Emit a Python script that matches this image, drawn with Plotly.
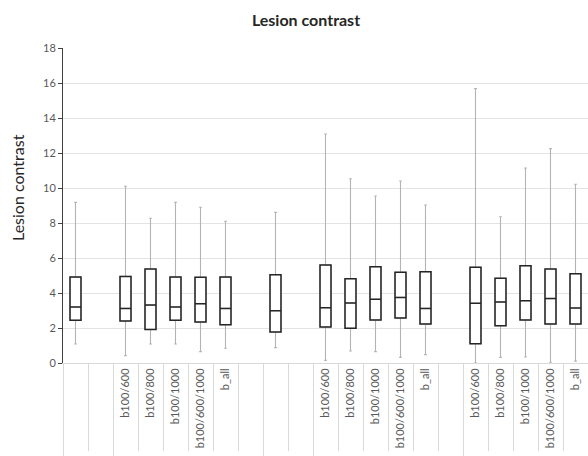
import plotly.graph_objects as go

# 21 category slots on the x axis (empty strings = unlabeled slots)
slot_labels = ["", "", "b100/600", "b100/800", "b100/1000", "b100/600/1000", "b_all",
               "", "", "", "b100/600", "b100/800", "b100/1000", "b100/600/1000", "b_all",
               "", "b100/600", "b100/800", "b100/1000", "b100/600/1000", "b_all"]

# slot index (1-based) of each box
box_slots = [1, 3, 4, 5, 6, 7, 9, 11, 12, 13, 14, 15, 17, 18, 19, 20, 21]

whisker_low = [1.09, 0.42, 1.09, 1.09, 0.65, 0.84, 0.88, 0.15, 0.69, 0.65, 0.32, 0.48, 0.0, 0.32, 0.34, 0.04, 0.11]
q1_vals     = [2.44, 2.40, 1.92, 2.44, 2.34, 2.19, 1.77, 2.06, 1.98, 2.46, 2.57, 2.23, 1.10, 2.13, 2.46, 2.23, 2.23]
median_vals = [3.20, 3.12, 3.31, 3.20, 3.39, 3.12, 2.99, 3.16, 3.43, 3.64, 3.75, 3.12, 3.41, 3.49, 3.56, 3.68, 3.14]
q3_vals     = [4.91, 4.95, 5.37, 4.91, 4.90, 4.91, 5.05, 5.60, 4.82, 5.50, 5.18, 5.22, 5.47, 4.84, 5.56, 5.37, 5.10]
whisker_high= [9.18, 10.10, 8.27, 9.18, 8.90, 8.10, 8.61, 13.09, 10.53, 9.54, 10.40, 9.03, 15.68, 8.36, 11.14, 12.25, 10.21]

# slot boundaries; group boundaries get longer divider lines
boundaries = [i + 0.5 for i in range(0, 22)]
group_boundaries = [0.5, 2.5, 8.5, 10.5, 16.5]

FONT = "Lato"
n = len(slot_labels)

fig = go.Figure()

# whiskers (gray)
fig.add_trace(go.Box(
    x=box_slots, q1=q1_vals, median=median_vals, q3=q3_vals,
    lowerfence=whisker_low, upperfence=whisker_high,
    width=0.44, whiskerwidth=0.25,
    line=dict(color="#b3b3b3", width=1.1), fillcolor="white",
    boxpoints=False, hoverinfo="skip", showlegend=False,
))
# boxes (black)
fig.add_trace(go.Box(
    x=box_slots, q1=q1_vals, median=median_vals, q3=q3_vals,
    lowerfence=q1_vals, upperfence=q3_vals,
    width=0.44, whiskerwidth=0,
    line=dict(color="#262626", width=1.5), fillcolor="rgba(255,255,255,0)",
    boxpoints=False, showlegend=False,
))
# helper traces so the divider axes are drawn
fig.add_trace(go.Scatter(x=[None], y=[None], xaxis="x2", showlegend=False, hoverinfo="skip"))
fig.add_trace(go.Scatter(x=[None], y=[None], xaxis="x3", showlegend=False, hoverinfo="skip"))

xr = [0.5, n + 0.5]
fig.update_layout(
    width=588, height=456,
    margin=dict(l=63, r=0, t=48, b=93),
    paper_bgcolor="white", plot_bgcolor="white",
    boxmode="overlay",
    font=dict(family=FONT, color="#595959"),
    title=dict(text="<b>Lesion contrast</b>", x=306 / 588, xref="container",
               y=1 - 20 / 456, yref="container", xanchor="center", yanchor="middle",
               font=dict(size=16, color="#262626", family=FONT)),
    xaxis=dict(range=xr, tickmode="array", tickvals=list(range(1, n + 1)),
               ticktext=slot_labels, tickangle=-90, ticks="", showgrid=False,
               showline=True, linecolor="#d9d9d9", linewidth=1, zeroline=False,
               automargin=False,
               tickfont=dict(size=11, color="#595959", family=FONT)),
    xaxis2=dict(range=xr, overlaying="x", anchor="y", side="bottom",
                tickmode="array", tickvals=boundaries, ticks="outside", ticklen=87,
                tickcolor="#d9d9d9", tickwidth=1, showticklabels=False, automargin=False,
                showgrid=False, showline=False, zeroline=False),
    xaxis3=dict(range=xr, overlaying="x", anchor="y", side="bottom",
                tickmode="array", tickvals=group_boundaries, ticks="outside", ticklen=110,
                tickcolor="#d9d9d9", tickwidth=1, showticklabels=False, automargin=False,
                showgrid=False, showline=False, zeroline=False),
    yaxis=dict(range=[0, 18], dtick=2, tick0=0, showgrid=True, gridcolor="#e3e3e3",
               gridwidth=1, showline=True, linecolor="#404040", linewidth=1,
               ticks="outside", ticklen=4, tickcolor="#404040", zeroline=False,
               automargin=False,
               tickfont=dict(size=11, color="#595959", family=FONT)),
    annotations=[dict(text="Lesion contrast", textangle=-90, xref="paper", yref="paper",
                      x=(17 - 63) / 525, y=(363 - 188) / 315, xanchor="center",
                      yanchor="middle", showarrow=False,
                      font=dict(size=16, color="#262626", family=FONT))],
)

fig.write_html("out.html", config={"displayModeBar": False},
               post_script="document.body.style.margin='0';document.body.style.overflow='hidden';")
